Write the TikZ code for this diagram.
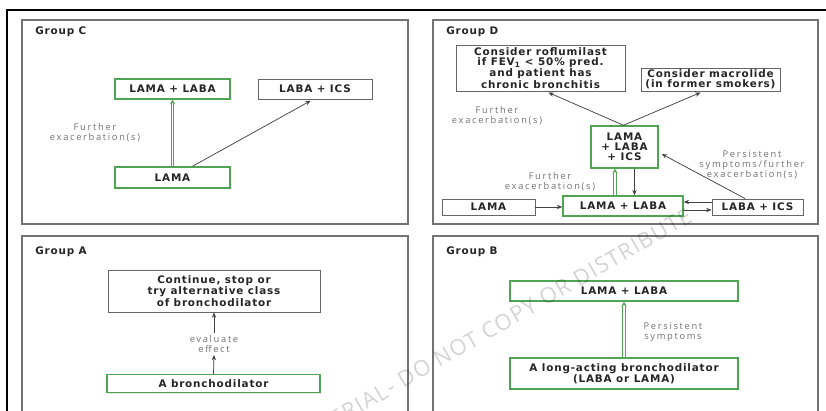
\documentclass[tikz,border=0pt]{standalone}
\usepackage{fontspec}
\setmainfont{Open Sans}[LetterSpace=18]
\newfontfamily\boxfont{DejaVu Sans}[LetterSpace=8]
\newfontfamily\wmfont{Open Sans}[LetterSpace=6]
\usetikzlibrary{arrows.meta,shadows,calc}
\definecolor{boxgreen}{RGB}{80,165,85}
\tikzset{
  sz/.style 2 args={minimum width=#1*0.75pt, minimum height=#2*0.75pt},
  basebox/.style={fill=white, inner sep=0pt, align=center,
    font=\boxfont\bfseries\fontsize{7.8}{7.5}\selectfont, text=black!85,
    drop shadow={opacity=0.22, shadow xshift=1.1pt, shadow yshift=-1.1pt}},
  gbox/.style={basebox, draw=boxgreen, line width=1.1pt},
  wbox/.style={basebox, draw=black!60, line width=0.7pt},
  lbl/.style={text=black!55, align=center, inner sep=1.5pt,
    font=\fontsize{7}{7.6}\selectfont},
  title/.style={anchor=west, inner sep=0pt, text=black!85,
    font=\boxfont\bfseries\fontsize{7.8}{8}\selectfont},
  panel/.style={draw=black!55, line width=1pt},
  arr/.style={draw=black!75, line width=0.55pt, -{Stealth[length=4pt,width=3.2pt]}},
  garr/.style={draw=boxgreen, line width=0.55pt, double=white, double distance=1.3pt,
    -{Stealth[length=3.5pt,width=4pt]}},
}
\begin{document}
\begin{tikzpicture}[x=0.75pt, y=-0.75pt]
\useasboundingbox (0,0) rectangle (826,411);
\clip (0,0) rectangle (826,411);
\fill[white] (0,0) rectangle (826,411);
% outer frame
\draw[line width=1.5pt] (7,430) -- (7,10) -- (830,10);
% panels
\draw[panel] (22,20) rectangle (408,224);
\draw[panel] (433,20) rectangle (818,224);
\draw[panel] (22,236) rectangle (408,440);
\draw[panel] (433,236) rectangle (818,440);
\node[title] (tC) at (35,32) {Group C};
\node[title] (tD) at (446,32) {Group D};
\node[title] (tA) at (35,252) {Group A};
\node[title] (tB) at (446,252) {Group B};

% ---- Group C
\node[gbox, sz={115}{20}] (c1) at (172.5,89) {LAMA + LABA};
\node[wbox, sz={114}{20}] (c2) at (315,89) {LABA + ICS};
\node[gbox, sz={115}{21}] (c3) at (172.5,177.5) {LAMA};
\node[lbl] (cl) at (95,133) {Further\\exacerbation(s)};
\draw[garr] (c3.north) -- (c1.south);
\coordinate (c3a) at ($(c3.north)+(20,0)$);
\coordinate (c2a) at ($(c2.south)+(-2,0)$);
\draw[arr, shorten >=2pt] (c3a) -- (c2a);

% ---- Group D
\node[wbox, sz={169}{46}] (d1) at (540.5,68) {Consider roflumilast\\if FEV\textsubscript{1} < 50\% pred.\\and patient has\\chronic bronchitis};
\node[wbox, sz={139}{23}] (d2) at (710.5,79.5) {Consider macrolide\\(in former smokers)};
\node[gbox, sz={67}{42}] (d3) at (624.5,147) {LAMA\\+ LABA\\+ ICS};
\node[wbox, sz={93}{16}] (d4) at (488.5,207) {LAMA};
\node[gbox, sz={120}{20}] (d5) at (623,206) {LAMA + LABA};
\node[wbox, sz={91}{16}] (d6) at (757.5,207) {LABA + ICS};
\node[lbl] (dl1) at (497,116) {Further\\exacerbation(s)};
\node[lbl] (dl2) at (550,182) {Further\\exacerbation(s)};
\node[lbl] (dl3) at (752,165) {Persistent\\symptoms/further\\exacerbation(s)};
\coordinate (d3t) at ($(d3.north)+(-1,0)$);
\coordinate (d1b) at ($(d1.south)+(5.5,0)$);
\coordinate (d2b) at ($(d2.south)+(-7.5,0)$);
\draw[arr, shorten >=2pt] (d3t) -- (d1b);
\draw[arr, shorten >=2pt] (d3t) -- (d2b);
\draw[arr] (d4.east) -- (d4.east -| d5.west);
\coordinate (p1) at ($(d6.west)+(0,-5)$);
\draw[arr] (p1) -- (p1 -| d5.east);
\coordinate (p2) at ($(d5.east)+(0,4)$);
\draw[arr] (p2) -- (p2 -| d6.west);
\coordinate (p3) at ($(d5.north)+(-8,0)$);
\draw[garr] (p3) -- (p3 |- d3.south);
\coordinate (p4) at ($(d3.south)+(10,0)$);
\draw[arr] (p4) -- (p4 |- d5.north);
\coordinate (p5) at ($(d6.north)+(-12.5,0)$);
\coordinate (p6) at ($(d3.east)+(3,7)$);
\draw[arr] (p5) -- (p6);

% ---- Group A
\node[wbox, sz={212}{42}] (a1) at (214,291) {Continue, stop or\\try alternative class\\of bronchodilator};
\node[gbox, sz={213}{18}] (a2) at (213.5,383.5) {A bronchodilator};
\node[lbl] (a3) at (214,344) {evaluate\\effect};
\draw[arr] (a2.north) -- (a3.south);
\draw[arr] (a3.north) -- (a1.south);

% ---- Group B
\node[gbox, sz={228}{20}] (b1) at (624,291) {LAMA + LABA};
\node[gbox, sz={228}{31}] (b2) at (624,373.5) {A long-acting bronchodilator\\(LABA or LAMA)};
\node[lbl] (bl) at (673,332) {Persistent\\symptoms};
\draw[garr] (b2.north) -- (b1.south);

% watermark
\node[rotate=30, anchor=east, inner sep=0pt, text=black, text opacity=0.17,
  font=\wmfont\fontsize{16.5}{16.5}\selectfont] (wm) at (690,214)
  {MATERIAL- DO NOT COPY OR DISTRIBUTE};
\end{tikzpicture}
\end{document}
